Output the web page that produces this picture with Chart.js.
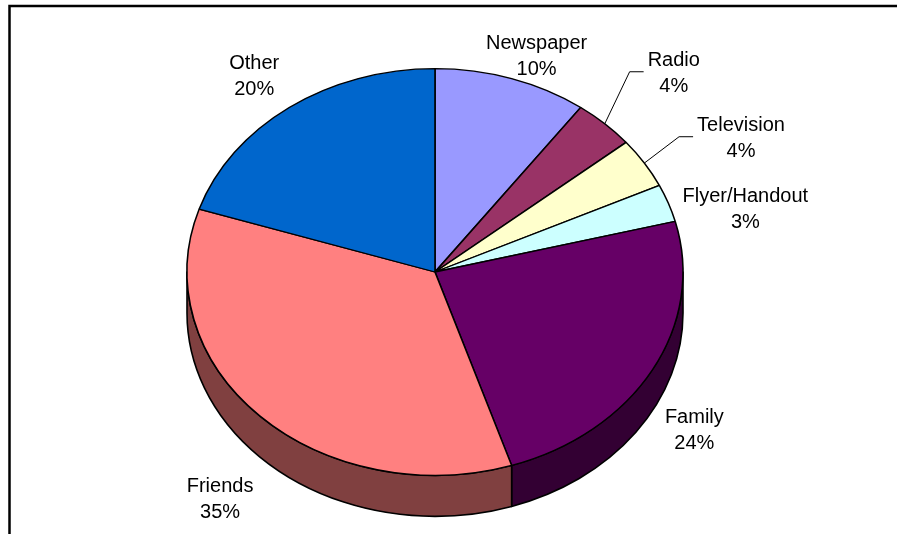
<!DOCTYPE html>
<html>
<head>
<meta charset="utf-8">
<script src="https://cdn.jsdelivr.net/npm/chart.js@4/dist/chart.umd.min.js"></script>
<style>
  html, body { margin: 0; padding: 0; background: #fff; }
  #wrap { width: 897px; height: 534px; }
</style>
</head>
<body>
<div id="wrap"><canvas id="c" width="897" height="534"></canvas></div>
<script>
// Slices clockwise from 12 o'clock
const categories = ['Newspaper', 'Radio', 'Television', 'Flyer/Handout', 'Family', 'Friends', 'Other'];
const shares = [10, 4, 4, 3, 24, 35, 20];

// Top-face and side (darker) colours per slice
const faceColors = ['#9999FF', '#993366', '#FFFFCC', '#CCFFFF', '#660066', '#FF8080', '#0066CC'];
const sideColors = ['#4D4D80', '#4D1A33', '#808066', '#668080', '#330033', '#804040', '#003366'];

// Label placement relative to the rim point at each slice's mid-angle
const labelOffsets = [[25, -29.5], [69, -58], [96.6, -32.3], [77, -1.6], [42, 52.7], [-39.6, 76], [-35, -38]];
const hasLeader = [false, true, true, false, false, false, false];

const TILT = 0.82;      // vertical squash of the top face
const DEPTH = 41;       // thickness of the pie
const LINE_GAP = 26;    // spacing between label lines
const FONT = '20px "Liberation Sans", Arial, sans-serif';

const pie3d = {
  id: 'pie3d',
  beforeDraw(chart) {
    const ctx = chart.ctx;
    ctx.save();
    ctx.strokeStyle = '#000';
    ctx.lineWidth = 2.5;
    ctx.beginPath();
    ctx.moveTo(9.5, chart.height);
    ctx.lineTo(9.5, 6);
    ctx.lineTo(chart.width, 6);
    ctx.stroke();
    ctx.restore();
  },
  beforeDatasetsDraw(chart) {
    const ctx = chart.ctx;
    const meta = chart.getDatasetMeta(0);
    ctx.save();
    // Side walls: only the front half (0..PI in canvas angles) is visible
    meta.data.forEach((arc, i) => {
      const p = arc.getProps(['x', 'y', 'startAngle', 'endAngle', 'outerRadius'], true);
      const a1 = Math.max(p.startAngle, 0);
      const a2 = Math.min(p.endAngle, Math.PI);
      if (a2 <= a1) return;
      const ry = p.outerRadius * TILT;
      ctx.beginPath();
      ctx.ellipse(p.x, p.y, p.outerRadius, ry, 0, a1, a2, false);
      ctx.ellipse(p.x, p.y + DEPTH, p.outerRadius, ry, 0, a2, a1, true);
      ctx.closePath();
      ctx.fillStyle = sideColors[i];
      ctx.fill();
      ctx.lineWidth = 1.6;
      ctx.lineJoin = 'round';
      ctx.strokeStyle = '#000';
      ctx.stroke();
    });
    // Squash the top face into an ellipse
    const c = meta.data[0];
    ctx.translate(c.x, c.y);
    ctx.scale(1, TILT);
    ctx.translate(-c.x, -c.y);
  },
  afterDatasetsDraw(chart) {
    const ctx = chart.ctx;
    ctx.restore();
    const meta = chart.getDatasetMeta(0);
    ctx.save();
    ctx.font = FONT;
    ctx.fillStyle = '#000';
    ctx.textAlign = 'center';
    ctx.textBaseline = 'alphabetic';
    meta.data.forEach((arc, i) => {
      const p = arc.getProps(['x', 'y', 'startAngle', 'endAngle', 'outerRadius'], true);
      const mid = (p.startAngle + p.endAngle) / 2;
      const rx = p.x + p.outerRadius * Math.cos(mid);
      const ry = p.y + p.outerRadius * TILT * Math.sin(mid);
      const lx = rx + labelOffsets[i][0];
      const ly = ry + labelOffsets[i][1];
      const line1 = categories[i];
      const line2 = shares[i] + '%';
      ctx.fillText(line1, lx, ly);
      ctx.fillText(line2, lx, ly + LINE_GAP);
      if (hasLeader[i]) {
        const w = Math.max(ctx.measureText(line1).width, ctx.measureText(line2).width);
        const endX = lx - w / 2 - 4;
        const midY = ly + 6;
        ctx.beginPath();
        ctx.moveTo(rx, ry);
        ctx.lineTo(endX - 14, midY);
        ctx.lineTo(endX, midY);
        ctx.lineWidth = 1;
        ctx.strokeStyle = '#000';
        ctx.stroke();
      }
    });
    ctx.restore();
  }
};

new Chart(document.getElementById('c'), {
  type: 'pie',
  data: {
    labels: categories,
    datasets: [{
      data: shares,
      backgroundColor: faceColors,
      borderColor: '#000',
      borderWidth: 1.6
    }]
  },
  options: {
    responsive: false,
    animation: false,
    radius: 248,
    layout: { padding: { left: 0, right: 27, top: 20, bottom: 10 } },
    plugins: {
      legend: { display: false },
      tooltip: { enabled: false }
    }
  },
  plugins: [pie3d]
});
</script>
</body>
</html>
